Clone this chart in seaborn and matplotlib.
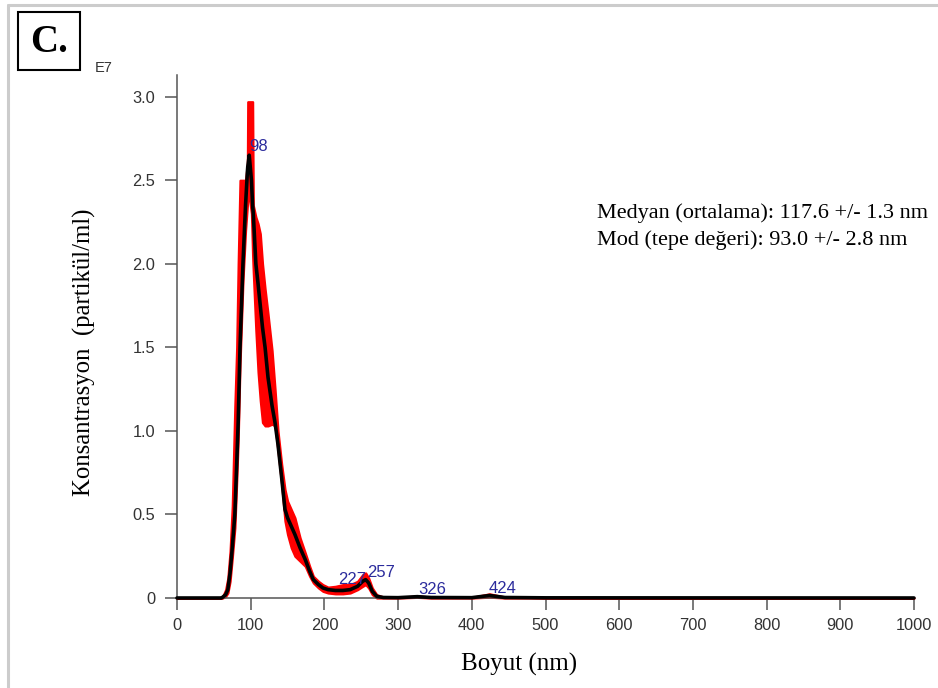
import numpy as np
import pandas as pd
import matplotlib
matplotlib.use("Agg")
import matplotlib.pyplot as plt
from matplotlib.lines import Line2D
from matplotlib.patches import Rectangle
import seaborn as sns

# ---- data (size in nm, concentration in 1e7 particles/ml) ----
size_nm = [0, 60, 62, 66, 69, 72, 75, 78.5, 81, 83, 85.5, 89.5, 93, 95.5, 96, 98, 101, 102.6,
           103.5, 107, 110, 113, 116, 119.5, 123.5, 129, 133, 137, 142, 146.5, 150, 155, 160,
           167, 174, 180, 185, 192, 198, 205, 215, 225, 235, 245, 252, 256, 260, 265,
           271, 280, 300, 326, 345, 400, 424, 445, 500, 1000]
conc_mean = [0, 0, .005, .02, .05, .15, .30, .50, .80, 1.05, 1.5, 2.0, 2.35, 2.55, 2.58, 2.65, 2.5, 2.35,
             2.3, 2.0, 1.88, 1.75, 1.62, 1.5, 1.32, 1.15, 1.05, 0.92, 0.72, 0.53, 0.48, 0.43, 0.38,
             0.30, 0.23, 0.16, 0.11, 0.08, 0.06, 0.05, 0.045, 0.045, 0.05, 0.07, 0.10, 0.11, 0.09, 0.04,
             0.01, .003, .002, .008, .003, .002, .015, .003, .001, 0]
conc_lower = [0, 0, 0, .01, .03, .10, .24, .42, .70, .95, 1.4, 1.9, 2.2, 2.35, 2.4, 2.4, 2.3, 2.05,
              1.95, 1.6, 1.35, 1.18, 1.05, 1.03, 1.03, 1.04, 1.03, 0.88, 0.68, 0.46, 0.38, 0.30, 0.25,
              0.22, 0.19, 0.13, 0.09, 0.06, 0.04, 0.03, 0.025, 0.025, 0.03, 0.05, 0.07, 0.08, 0.06, 0.02,
              0, 0, 0, .004, 0, 0, .005, 0, 0, 0]
conc_upper = [0, 0, .01, .05, .12, .28, .55, 1.15, 1.5, 2.0, 2.5, 2.5, 2.5, 2.6, 2.97, 2.97, 2.97, 2.97,
              2.35, 2.28, 2.24, 2.18, 2.0, 1.85, 1.7, 1.48, 1.25, 1.0, 0.8, 0.65, 0.58, 0.53, 0.48,
              0.36, 0.27, 0.19, 0.13, 0.10, 0.08, 0.065, 0.07, 0.08, 0.08, 0.10, 0.14, 0.15, 0.12, 0.06,
              0.02, .006, .004, .012, .006, .004, .025, .006, .002, 0]

peak_sizes = [98, 227, 257, 326, 424]
peak_label_x = [98, 218, 258, 327, 423]
peak_label_y = [2.70, 0.108, 0.15, 0.048, 0.054]

x_ticks = [0, 100, 200, 300, 400, 500, 600, 700, 800, 900, 1000]
y_ticks = [0, 0.5, 1.0, 1.5, 2.0, 2.5, 3.0]
y_tick_labels = ["0", "0.5", "1.0", "1.5", "2.0", "2.5", "3.0"]

stats_lines = ["Medyan (ortalama): 117.6 +/- 1.3 nm",
               "Mod (tepe değeri): 93.0 +/- 2.8 nm"]

df = pd.DataFrame({"size": size_nm, "mean": conc_mean,
                   "lower": conc_lower, "upper": conc_upper})

sns.set_theme(style="ticks")
plt.rcParams["font.family"] = ["Liberation Sans", "DejaVu Sans"]

fig = plt.figure(figsize=(9.38, 6.88), dpi=100)
ax = fig.add_axes([177/938, 90/688, (914-177)/938, (598-75)/688])

ax.fill_between(df["size"], df["lower"], df["upper"], color="#ff0000",
                edgecolor="#ff0000", linewidth=1.6, zorder=2, clip_on=False)
sns.lineplot(data=df, x="size", y="mean", color="black", linewidth=2.6,
             ax=ax, zorder=3, clip_on=False)

peak_color = "#2b2b9c"
for lbl, px, py in zip(peak_sizes, peak_label_x, peak_label_y):
    ax.text(px, py, str(lbl), color=peak_color, fontsize=12, ha="left",
            va="center", zorder=4)

ax.set_xlim(0, 1000)
ax.set_ylim(0, 3.13)
ax.set_xticks(x_ticks)
ax.set_yticks(y_ticks)
ax.set_yticklabels(y_tick_labels)
ax.set_xlabel("")
ax.set_ylabel("")
for s in ["top", "right"]:
    ax.spines[s].set_visible(False)
for s in ["left", "bottom"]:
    ax.spines[s].set_color("#555555")
    ax.spines[s].set_linewidth(1.1)
ax.tick_params(axis="both", direction="out", length=8.6, width=1.1,
               color="#555555", labelcolor="#333333", labelsize=11.8)
ax.tick_params(axis="y", pad=7)
ax.tick_params(axis="x", pad=6)

serif = ["Liberation Serif", "DejaVu Serif"]
fig.text(519/938, 1 - 664/688, "Boyut (nm)", family=serif, fontsize=18,
         ha="center", va="center", color="black")
fig.text(84/938, 1 - 352/688, "Konsantrasyon  (partikül/ml)", family=serif,
         fontsize=17.8, rotation=90, ha="center", va="center", color="black")

fig.text(597/938, 1 - 213/688, stats_lines[0], family=serif, fontsize=16,
         ha="left", va="center", color="black")
fig.text(597/938, 1 - 240/688, stats_lines[1], family=serif, fontsize=16,
         ha="left", va="center", color="black")

fig.text(95/938, 1 - 68/688, "E7", fontsize=10.5, ha="left", va="center",
         color="#333333")

# panel label box
fig.patches.append(Rectangle((18/938, 1 - 70/688), 62/938, 58/688,
                             transform=fig.transFigure, fill=False,
                             edgecolor="black", linewidth=1.5))
fig.text(49/938, 1 - 42/688, "C.", family=serif, fontsize=28,
         fontweight="bold", ha="center", va="center", color="black")

# page frame
fig.lines.append(Line2D([8/938, 8/938], [0, 1 - 5/688], transform=fig.transFigure,
                        color="#cccccc", linewidth=2.2))
fig.lines.append(Line2D([8/938, 1], [1 - 5/688, 1 - 5/688], transform=fig.transFigure,
                        color="#cccccc", linewidth=2.2))

fig.savefig("out.png", dpi=100)
